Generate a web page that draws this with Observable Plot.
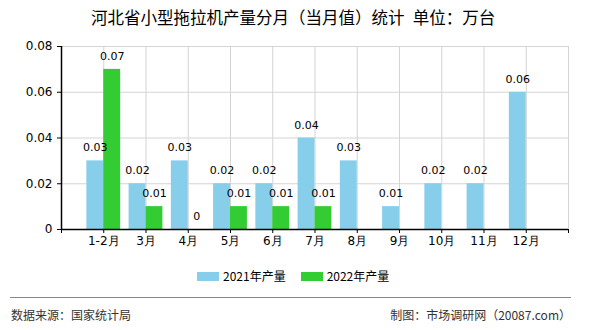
<!DOCTYPE html>
<html>
<head>
<meta charset="utf-8">
<script src="https://cdn.jsdelivr.net/npm/d3@7"></script>
<script src="https://cdn.jsdelivr.net/npm/@observablehq/plot@0.6"></script>
<style>
  html, body { margin: 0; padding: 0; background: #fff; }
  body { width: 590px; height: 330px; position: relative; overflow: hidden;
         font-family: "Noto Sans CJK SC", "Noto Sans", sans-serif; }
  #title { position: absolute; left: 0; top: 6px; width: 590px; text-align: center;
           font-size: 16.5px; line-height: 22px; color: #000; padding-right: 4px; box-sizing: border-box; }
  #chart { position: absolute; left: 0; top: 32px; }
  #legend { position: absolute; top: 268px; left: 197px; display: flex; align-items: center;
            font-size: 12px; color: #000; line-height: 16px; }
  .sw { width: 22px; height: 9px; display: inline-block; margin-right: 4px; }
  .item { display: flex; align-items: center; margin-right: 15px; }
  #rule { position: absolute; left: 10px; top: 297px; width: 561px; height: 0; border-top: 1px solid #888; }
  .foot { position: absolute; top: 306px; font-size: 12px; line-height: 18px; color: #333; }
</style>
</head>
<body>
<div id="title">河北省小型拖拉机产量分月（当月值）统计&ensp;单位：万台</div>
<div id="chart"></div>
<div id="legend">
  <span class="item"><span class="sw" style="background:#87CEEB"></span>2021年产量</span>
  <span class="item"><span class="sw" style="background:#33CC33"></span>2022年产量</span>
</div>
<div id="rule"></div>
<div class="foot" style="left:11px">数据来源：国家统计局</div>
<div class="foot" style="right:19px">制图：市场调研网（20087.com）</div>
<script>
const months = ["1-2月","3月","4月","5月","6月","7月","8月","9月","10月","11月","12月"];
const v2021 = [0.03,0.02,0.03,0.02,0.02,0.04,0.03,0.01,0.02,0.02,0.06];
const v2022 = [0.07,0.01,0,0.01,0.01,0.01,null,null,null,null,null];
const yTicks = [0,0.02,0.04,0.06,0.08];
const series = ["2021年产量","2022年产量"];
const colors = ["#87CEEB","#33CC33"];

const rows = [];
months.forEach((m, k) => {
  rows.push({i: k + 1, s: series[0], v: v2021[k], off: -1});
  if (v2022[k] != null) rows.push({i: k + 1, s: series[1], v: v2022[k], off: 0});
});
const W = 0.4;
const fmt = v => v === 0 ? "0" : v.toFixed(2);

const chart = Plot.plot({
  width: 590,
  height: 228,
  marginLeft: 61,
  marginRight: 22,
  marginTop: 14,
  marginBottom: 31,
  style: {fontSize: "12px", fontFamily: "'DejaVu Sans', sans-serif", color: "#000", background: "transparent"},
  x: {type: "linear", domain: [0, 12]},
  y: {domain: [0, 0.08]},
  color: {domain: series, range: colors},
  marks: [
    Plot.gridY(yTicks.slice(1), {stroke: "#d4d4d4", strokeOpacity: 1}),
    Plot.gridX(d3.range(1, 13), {stroke: "#d4d4d4", strokeOpacity: 1}),
    Plot.rectY(rows, {x1: d => d.i + d.off * W, x2: d => d.i + (d.off + 1) * W, y: "v", fill: "s"}),
    Plot.text(rows, {x: d => d.i + (d.off + 0.5) * W, y: "v", text: d => fmt(d.v), dy: -13, fill: "#000", fontSize: 11}),
    Plot.ruleY([0], {stroke: "#000", strokeWidth: 1.5}),
    Plot.ruleX([0], {stroke: "#000", strokeWidth: 1.5}),
    Plot.axisY({ticks: yTicks, tickFormat: fmt, tickSize: 4, tickPadding: 5, label: null, stroke: "#000"}),
    Plot.axisX({ticks: d3.range(0, 13), tickFormat: t => months[t - 1] ?? "", tickSize: 4, tickPadding: 3, label: null, stroke: "#000"})
  ]
});
document.getElementById("chart").appendChild(chart);
</script>
</body>
</html>
